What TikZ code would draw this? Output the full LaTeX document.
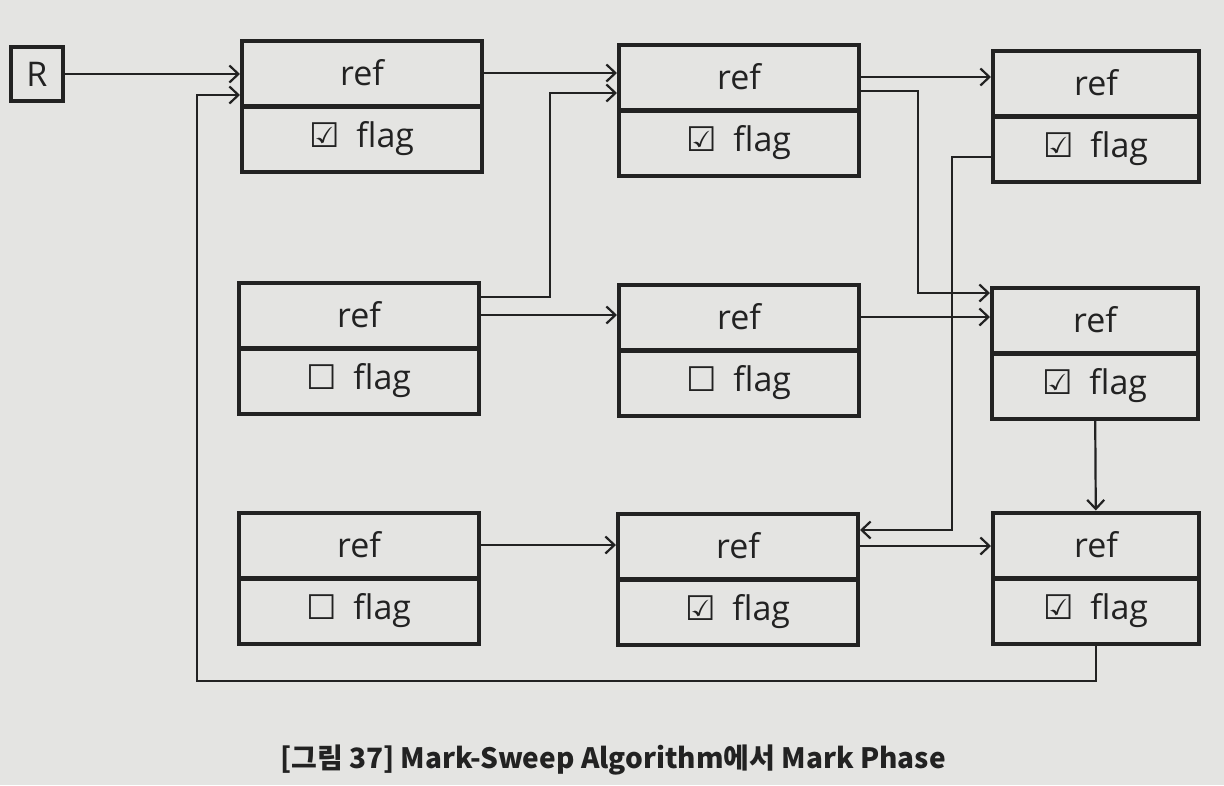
\documentclass[tikz,border=0pt]{standalone}
\usepackage{fontspec}
\setmainfont{Open Sans}
\newfontfamily\krfont{Noto Sans CJK KR}
\newfontfamily\symfont{DejaVu Sans}
\usetikzlibrary{arrows.meta}
\definecolor{paper}{HTML}{E4E4E2}
\definecolor{ink}{HTML}{222222}
\newcommand{\chk}{{\symfont\fontsize{34}{36}\selectfont\char"2611}\hspace{16pt}}
\newcommand{\unchk}{{\symfont\fontsize{34}{36}\selectfont\char"2610}\hspace{16pt}}

\begin{document}
\begin{tikzpicture}[x=1pt,y=-1pt,>={Straight Barb[length=9pt,width=17pt]},
        link/.style={->,draw=ink,line width=2.2pt}]
            \fill[paper] (0,0) rectangle (1224,785);
            \begin{scope}[every node/.style={draw=ink,line width=4pt,text=ink,minimum width=240pt,minimum height=65pt,inner sep=0pt,font=\fontsize{34}{38}\selectfont}]
                \node (a) at (362,73) {ref};
                \node (a-flag) at (362,139) {\chk flag};
                \node (b) at (739,77) {ref};
                \node (b-flag) at (739,143) {\chk flag};
                \node (d) at (359,315) {ref};
                \node (d-flag) at (359,381) {\unchk flag};
                \node (e) at (739,317) {ref};
                \node (e-flag) at (739,383) {\unchk flag};
                \node (g) at (359,545) {ref};
                \node (g-flag) at (359,611) {\unchk flag};
                \node (h) at (738,546) {ref};
                \node (h-flag) at (738,612) {\chk flag};
            \end{scope}
            \begin{scope}[every node/.style={draw=ink,line width=4pt,text=ink,minimum width=206pt,minimum height=65pt,inner sep=0pt,font=\fontsize{34}{38}\selectfont}]
                \node (c) at (1096,83) {ref};
                \node (c-flag) at (1096,149) {\chk flag};
                \node (f) at (1095,320) {ref};
                \node (f-flag) at (1095,386) {\chk flag};
                \node (i) at (1096,545) {ref};
                \node (i-flag) at (1096,611) {\chk flag};
            \end{scope}
            \node[draw=ink,line width=3.5pt,text=ink,minimum width=52pt,minimum height=54pt,inner sep=0pt,font=\fontsize{34}{38}\selectfont] (r) at (37,74) {R};
            \node[text=ink,font=\krfont\bfseries\fontsize{28}{30}\selectfont] (caption) at (613,760) {[그림 37] Mark-Sweep Algorithm에서 Mark Phase};
            \coordinate (loop) at (197,681);
            \draw[link] (r) -- (r -| a.west);
            \draw[link] (i-flag.south) |- (loop) |- ([yshift=-22pt]a.west);
            \draw[link] (a) -- (a -| b.west);
            \draw[link] ([yshift=18pt]d.east) -- ++(69,0) |- ([yshift=-16pt]b.west);
            \draw[link] (d) -- (d -| e.west);
            \draw[link] (b) -- (b -| c.west);
            \draw[link] ([yshift=-14pt]b.east) -- ++(57,0) |- ([yshift=27pt]f.west);
            \draw[link] (e) -- (e -| f.west);
            \draw[link] ([yshift=-8pt]c-flag.west) -- ++(-39,0) |- ([yshift=16pt]h.east);
            \draw[link] (h) -- (h -| i.west);
            \draw[link] (f-flag) -- (i);
            \draw[link] (g) -- (g -| h.west);
        \end{tikzpicture}
\end{document}
